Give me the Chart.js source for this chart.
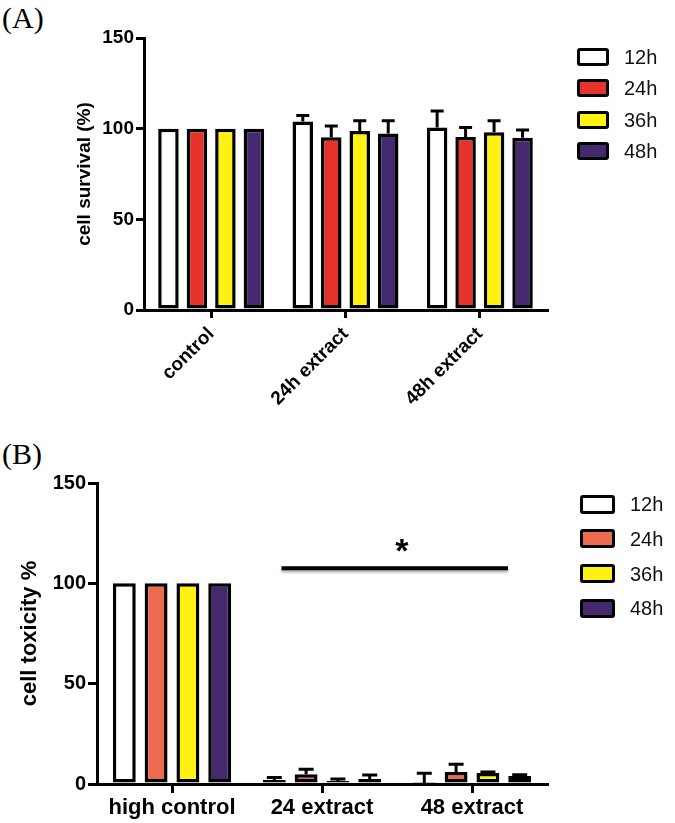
<!DOCTYPE html>
<html><head><meta charset="utf-8">
<script src="https://cdn.jsdelivr.net/npm/chart.js@4.4.1/dist/chart.umd.min.js"></script>
<style>
html,body{margin:0;padding:0;background:#fff;}
#wrap{position:relative;width:675px;height:823px;overflow:hidden;background:#fff;font-family:"Liberation Sans",Arimo,Arial,sans-serif;}
.panel{position:absolute;left:2px;font-family:"Liberation Serif","Times New Roman",serif;font-size:30px;color:#000;line-height:1;}
.cbox{position:absolute;left:0;width:675px;}
.li{position:absolute;display:flex;align-items:center;}
.sw{box-sizing:border-box;border:3.5px solid #000;border-radius:3px;}
.lt{font-family:"Liberation Sans",Arimo,Arial,sans-serif;font-size:20px;color:#111;margin-left:15px;line-height:1;}
</style></head><body>
<div id="wrap">
  <div class="panel" style="top:3px">(A)</div>
  <div class="panel" style="top:439px">(B)</div>
  <div class="cbox" style="top:0;height:420px"><canvas id="cA" width="675" height="420"></canvas></div>
  <div class="cbox" style="top:430px;height:393px"><canvas id="cB" width="675" height="393"></canvas></div>
  <div id="legA"></div>
  <div id="legB"></div>
</div>
<script>
// ---------- data ----------
const seriesNames = ['12h', '24h', '36h', '48h'];

const categoriesA = ['control', '24h extract', '48h extract'];
const survival12h = [100, 104, 100.7];
const survival24h = [100, 95.2, 95.4];
const survival36h = [100, 98.7, 98];
const survival48h = [100, 97.4, 95];
const survivalErr12h = [0, 3.3, 9];
const survivalErr24h = [0, 6.3, 5.2];
const survivalErr36h = [0, 5.6, 6.3];
const survivalErr48h = [0, 6.9, 4.3];

const categoriesB = ['high control', '24 extract', '48 extract'];
const toxicity12h = [100, 2, 0.3];
const toxicity24h = [100, 4.8, 6];
const toxicity36h = [100, 1.5, 5.5];
const toxicity48h = [100, 2.5, 4];
const toxicityErr12h = [0, 1.2, 5];
const toxicityErr24h = [0, 2.5, 3.8];
const toxicityErr36h = [0, 1, 0.5];
const toxicityErr48h = [0, 2, 0.6];

const yTicks = [0, 50, 100, 150];
const sigFrom = 0.73, sigTo = 2.24, sigLevel = 107.5, sigMark = '*';

// ---------- styles ----------
const colorsA = ['#FFFFFF', '#E5322B', '#FFF212', '#44296F'];
const colorsB = ['#FFFFFF', '#EC6A50', '#FFF212', '#44296F'];
const FONT = '"Liberation Sans", Arimo, Arial, sans-serif';
Chart.defaults.color = '#000';
Chart.defaults.font.family = FONT;
Chart.defaults.animation = false;

const errorBars = {
  id: 'errorBars',
  afterDatasetsDraw(chart, args, opts) {
    const ctx = chart.ctx, y = chart.scales.y;
    ctx.save();
    ctx.strokeStyle = '#000';
    ctx.lineWidth = opts.lineWidth || 3;
    chart.data.datasets.forEach((ds, di) => {
      const meta = chart.getDatasetMeta(di);
      meta.data.forEach((bar, i) => {
        const e = ds.errors ? ds.errors[i] : 0;
        if (!e) return;
        const v = ds.data[i];
        const x = bar.x;
        const y0 = y.getPixelForValue(v);
        const y1 = y.getPixelForValue(v + e);
        ctx.beginPath();
        ctx.moveTo(x, y0); ctx.lineTo(x, y1);
        ctx.moveTo(x - opts.cap / 2, y1); ctx.lineTo(x + opts.cap / 2, y1);
        ctx.stroke();
      });
    });
    ctx.restore();
  }
};

const sigPlugin = {
  id: 'sigPlugin',
  afterDatasetsDraw(chart, args, opts) {
    if (!opts.enabled) return;
    const ctx = chart.ctx, x = chart.scales.x, y = chart.scales.y;
    const x0 = x.getPixelForValue(sigFrom), x1 = x.getPixelForValue(sigTo);
    const yy = y.getPixelForValue(sigLevel);
    ctx.save();
    ctx.shadowColor = 'rgba(0,0,0,0.35)';
    ctx.shadowBlur = 3; ctx.shadowOffsetY = 2;
    ctx.strokeStyle = '#000'; ctx.lineWidth = 4;
    ctx.beginPath(); ctx.moveTo(x0, yy); ctx.lineTo(x1, yy); ctx.stroke();
    ctx.restore();
    ctx.save();
    ctx.fillStyle = '#000';
    ctx.font = "bold 34px " + FONT;
    ctx.textAlign = 'center'; ctx.textBaseline = 'alphabetic';
    ctx.fillText(sigMark, (x0 + x1) / 2 + 7, yy - 6);
    ctx.restore();
  }
};

function makeDatasets(values, errs, colors, bw) {
  return values.map((v, i) => ({
    label: seriesNames[i],
    data: v,
    errors: errs[i],
    backgroundColor: colors[i],
    borderColor: '#000',
    borderWidth: bw,
    borderSkipped: false,
    categoryPercentage: 0.848,
    barPercentage: 0.72
  }));
}

function makeChart(id, cfg) {
  return new Chart(document.getElementById(id), {
    type: 'bar',
    data: { labels: cfg.labels, datasets: cfg.datasets },
    options: {
      responsive: false,
      animation: false,
      layout: { padding: cfg.padding },
      plugins: {
        legend: { display: false },
        tooltip: { enabled: false },
        errorBars: { cap: cfg.cap, lineWidth: 3 },
        sigPlugin: { enabled: cfg.sig }
      },
      scales: {
        x: {
          offset: true,
          grid: { offset: false, drawOnChartArea: false, drawTicks: true, tickLength: cfg.tickLen, color: '#000', lineWidth: 3 },
          border: { display: true, color: '#000', width: 3 },
          ticks: { font: { size: cfg.xFont, weight: 'bold' }, color: '#000', maxRotation: cfg.rot, minRotation: cfg.rot, padding: cfg.xPad, autoSkip: false },
          afterFit: s => { s.height = cfg.xHeight; }
        },
        y: {
          min: 0, max: 150,
          afterBuildTicks: s => { s.ticks = yTicks.map(v => ({ value: v })); },
          grid: { drawOnChartArea: false, drawTicks: true, tickLength: cfg.tickLen, color: '#000', lineWidth: 3 },
          border: { display: true, color: '#000', width: 3 },
          ticks: { font: { size: cfg.yFont, weight: 'bold' }, color: '#000', padding: 2 },
          title: { display: true, text: cfg.yTitle, font: { size: cfg.titleFont, weight: 'bold' }, color: '#000', padding: { top: 3, bottom: 0 } },
          afterFit: s => { s.width = cfg.yWidth; }
        }
      }
    },
    plugins: [errorBars, sigPlugin]
  });
}

makeChart('cA', {
  labels: categoriesA,
  datasets: makeDatasets([survival12h, survival24h, survival36h, survival48h],
    [survivalErr12h, survivalErr24h, survivalErr36h, survivalErr48h], colorsA, 3.5),
  padding: { left: 70, top: 38, right: 128, bottom: 0 },
  yWidth: 74, xHeight: 110, tickLen: 8, rot: 45, xPad: 5,
  xFont: 19, yFont: 19, titleFont: 19, yTitle: 'cell survival (%)', cap: 13, sig: false
});

makeChart('cB', {
  labels: categoriesB,
  datasets: makeDatasets([toxicity12h, toxicity24h, toxicity36h, toxicity48h],
    [toxicityErr12h, toxicityErr24h, toxicityErr36h, toxicityErr48h], colorsB, 3.5),
  padding: { left: 14, top: 53, right: 128, bottom: 0 },
  yWidth: 83, xHeight: 39, tickLen: 9, rot: 0, xPad: 2,
  xFont: 22, yFont: 20, titleFont: 22, yTitle: 'cell toxicity %', cap: 15, sig: true
});

// ---------- HTML legends ----------
function legend(elId, colors, left, y0, step, w, h) {
  const el = document.getElementById(elId);
  seriesNames.forEach((n, i) => {
    const d = document.createElement('div');
    d.className = 'li';
    d.style.left = left + 'px';
    d.style.top = (y0 + step * i - h / 2) + 'px';
    d.style.height = h + 'px';
    d.innerHTML = '<div class="sw" style="width:' + w + 'px;height:' + h + 'px;background:' + colors[i] + '"></div><span class="lt">' + n + '</span>';
    el.appendChild(d);
  });
}
legend('legA', colorsA, 577, 57, 31.3, 32, 18);
legend('legB', colorsB, 580, 504, 34.8, 35, 19);
</script>
</body></html>
